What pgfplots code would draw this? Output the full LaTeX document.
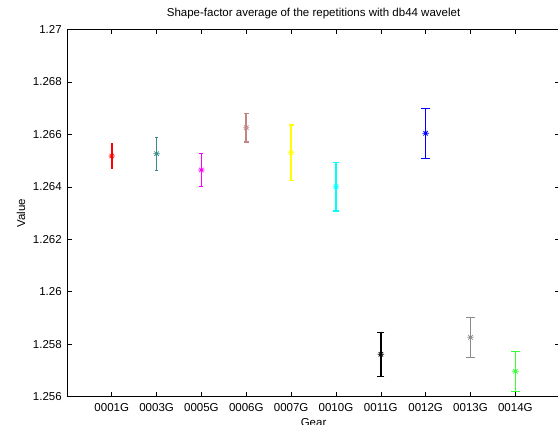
\documentclass[border=0pt]{standalone}
\usepackage{pgfplots}
\pgfplotsset{compat=1.18}
\usepackage{fontspec}
\setmainfont{Liberation Sans}
\definecolor{cteal}{rgb}{0.22,0.55,0.55}
\definecolor{cbrown}{rgb}{0.76,0.52,0.52}
\definecolor{cgray}{rgb}{0.55,0.55,0.55}
\definecolor{cgreen}{rgb}{0.2,1.0,0.2}
\definecolor{cyellow}{rgb}{1.0,1.0,0.0}
\definecolor{ccyan}{rgb}{0.0,1.0,1.0}
\definecolor{cmag}{rgb}{1.0,0.0,1.0}
\pgfdeclareplotmark{mstar}{%
  \pgfpathmoveto{\pgfqpoint{-\pgfplotmarksize}{0pt}}\pgfpathlineto{\pgfqpoint{\pgfplotmarksize}{0pt}}%
  \pgfpathmoveto{\pgfqpoint{0pt}{-\pgfplotmarksize}}\pgfpathlineto{\pgfqpoint{0pt}{\pgfplotmarksize}}%
  \pgfpathmoveto{\pgfqpoint{-0.7\pgfplotmarksize}{-0.7\pgfplotmarksize}}\pgfpathlineto{\pgfqpoint{0.7\pgfplotmarksize}{0.7\pgfplotmarksize}}%
  \pgfpathmoveto{\pgfqpoint{-0.7\pgfplotmarksize}{0.7\pgfplotmarksize}}\pgfpathlineto{\pgfqpoint{0.7\pgfplotmarksize}{-0.7\pgfplotmarksize}}%
  \pgfusepathqstroke}
% #1 colour, #2 cap half-width, #3 x, #4 mean, #5 low, #6 high
\newcommand\eb[6]{%
  \addplot[color=#1, line width=1.6pt, mark=-, mark size=#2,
    mark options={line width=1.2pt, solid, color=#1}]
    coordinates {(#3,#5) (#3,#6)};
  \addplot[color=#1, only marks, mark=mstar, mark size=3.2pt,
    mark options={line width=0.7pt, solid, color=#1}]
    coordinates {(#3,#4)};}
\begin{document}
\begin{tikzpicture}
\path[use as bounding box, clip] (0pt,0pt) rectangle (558pt,425pt);
\begin{axis}[
  at={(66.9pt,28.3pt)}, anchor=south west,
  scale only axis, width=493.3pt, height=367.2pt,
  xmin=0, xmax=11, ymin=1.256, ymax=1.27,
  xtick={1,2,3,4,5,6,7,8,9,10},
  xticklabels={0001G,0003G,0005G,0006G,0007G,0010G,0011G,0012G,0013G,0014G},
  ytick={1.256,1.258,1.26,1.262,1.264,1.266,1.268,1.27},
  yticklabels={1.256,1.258,1.26,1.262,1.264,1.266,1.268,1.27},
  xtick pos=both, ytick pos=both,
  tick align=inside, major tick length=5pt,
  tick style={line width=0.6pt, black},
  axis line style={line width=0.6pt, black},
  /pgf/number format/assume math mode=true,
  tick label style={font=\fontsize{11.5}{13}\selectfont, inner sep=0pt},
  yticklabel style={xshift=-5pt},
  xticklabel style={yshift=-6.5pt},
  title={Shape-factor average of the repetitions with db44 wavelet},
  title style={font=\fontsize{11.5}{13}\selectfont, inner sep=0pt, anchor=base, at={(axis description cs:0.5,1)}, yshift=7pt},
  xlabel={Gear},
  xlabel style={font=\fontsize{11.5}{13}\selectfont, inner sep=0pt, anchor=north, at={(axis description cs:0.5,-0.058)}},
  ylabel={Value},
  ylabel style={font=\fontsize{11.5}{13}\selectfont, inner sep=0pt, anchor=center, at={(axis description cs:-0.0931,0.5)}},
  clip=false
]
\eb{red}{1pt}{1}{1.265177}{1.264700}{1.265654}
\eb{cteal}{1.5pt}{2}{1.265265}{1.264636}{1.265894}
\eb{cmag}{2pt}{3}{1.264643}{1.264014}{1.265272}
\eb{cbrown}{2.25pt}{4}{1.266256}{1.265709}{1.266803}
\eb{cyellow}{2.5pt}{5}{1.265303}{1.264249}{1.266357}
\eb{ccyan}{3.1pt}{6}{1.264007}{1.263079}{1.264935}
\eb{black}{3.6pt}{7}{1.257617}{1.256778}{1.258456}
\eb{blue}{4.5pt}{8}{1.266042}{1.265083}{1.267001}
\eb{cgray}{4.8pt}{9}{1.258265}{1.257508}{1.259022}
\eb{cgreen}{4.8pt}{10}{1.256968}{1.256205}{1.257731}
\end{axis}
\end{tikzpicture}
\end{document}
